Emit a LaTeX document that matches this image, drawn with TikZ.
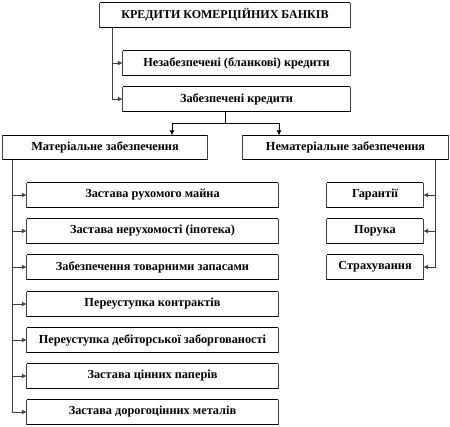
\documentclass[tikz,border=0pt]{standalone}
\usepackage{fontspec}
\setmainfont{Liberation Serif}
\usetikzlibrary{arrows.meta}
\tikzset{
  bx/.style={inner sep=0pt, minimum height=24pt, font=\bfseries\fontsize{12.3}{14}\selectfont, text=black},
  dotln/.style={draw=black!75, line width=0.9pt, dash pattern=on 0.5pt off 0.5pt},
  solidln/.style={draw=black, line width=0.8pt},
  arr/.style={-{Latex[length=5pt,width=5pt]}},
  conn/.style={dotln},
}
\newcommand{\bxborder}[1]{%
  \draw[solidln] (#1.north west) -- (#1.north east);
  \draw[solidln] (#1.south west) -- (#1.south east);
  \draw[dotln] (#1.north west) -- (#1.south west);
  \draw[dotln] (#1.north east) -- (#1.south east);
}
\begin{document}
\begin{tikzpicture}[x=1pt,y=-1pt]
\useasboundingbox (0,0) rectangle (450,426);
% nodes
\node[bx, minimum width=250pt, font=\bfseries\fontsize{12}{14}\selectfont] (top) at (225,15) {КРЕДИТИ КОМЕРЦІЙНИХ БАНКІВ};
\node[bx, minimum width=227pt] (uns) at (236.5,63) {Незабезпечені (бланкові) кредити};
\node[bx, minimum width=227pt] (sec) at (236.5,99) {Забезпечені кредити};
\node[bx, minimum width=204pt] (mat) at (105,147.5) {Матеріальне забезпечення};
\node[bx, minimum width=205pt] (nmat) at (345.5,147.5) {Нематеріальне забезпечення};
\node[bx, minimum width=251pt] (m1) at (152.5,195) {Застава рухомого майна};
\node[bx, minimum width=251pt] (m2) at (152.5,231) {Застава нерухомості (іпотека)};
\node[bx, minimum width=251pt] (m3) at (152.5,267) {Забезпечення товарними запасами};
\node[bx, minimum width=251pt] (m4) at (152.5,304) {Переуступка контрактів};
\node[bx, minimum width=251pt] (m5) at (152.5,340) {Переуступка дебіторської заборгованості};
\node[bx, minimum width=251pt] (m6) at (152.5,376) {Застава цінних паперів};
\node[bx, minimum width=251pt] (m7) at (152.5,412) {Застава дорогоцінних металів};
\node[bx, minimum width=96pt] (n1) at (375,195) {Гарантії};
\node[bx, minimum width=96pt] (n2) at (375,231) {Порука};
\node[bx, minimum width=96pt] (n3) at (375,267) {Страхування};
\foreach \n in {top,uns,sec,mat,nmat,m1,m2,m3,m4,m5,m6,m7,n1,n2,n3} {\bxborder{\n}}
% coordinates
\coordinate (tl) at (112,27);
\coordinate (tb) at (112,99);
\coordinate (sj) at (225,123);
\coordinate (jl) at (172,123);
\coordinate (jr) at (279,123);
\coordinate (ml) at (12,160);
\coordinate (mb) at (12,412);
\coordinate (nr) at (435,160);
\coordinate (nb) at (435,267);
% top connectors
\draw[conn] (tl) -- (tb);
\draw[conn,arr] (tl |- uns.west) -- (uns.west);
\draw[conn,arr] (tb) -- (sec.west);
% secured split
\draw[solidln] (sec.south -| sj) -- (sj);
\draw[solidln] (jl) -- (jr);
\draw[solidln,arr] (jl) -- (jl |- mat.north);
\draw[solidln,arr] (jr) -- (jr |- nmat.north);
% material
\draw[conn] (ml) -- (mb);
\foreach \n in {m1,m2,m3,m4,m5,m6,m7} {\draw[conn,arr] (ml |- \n.west) -- (\n.west);}
% non-material
\draw[conn] (nr) -- (nb);
\foreach \n in {n1,n2,n3} {\draw[conn,arr] (nr |- \n.east) -- (\n.east);}
\end{tikzpicture}
\end{document}
